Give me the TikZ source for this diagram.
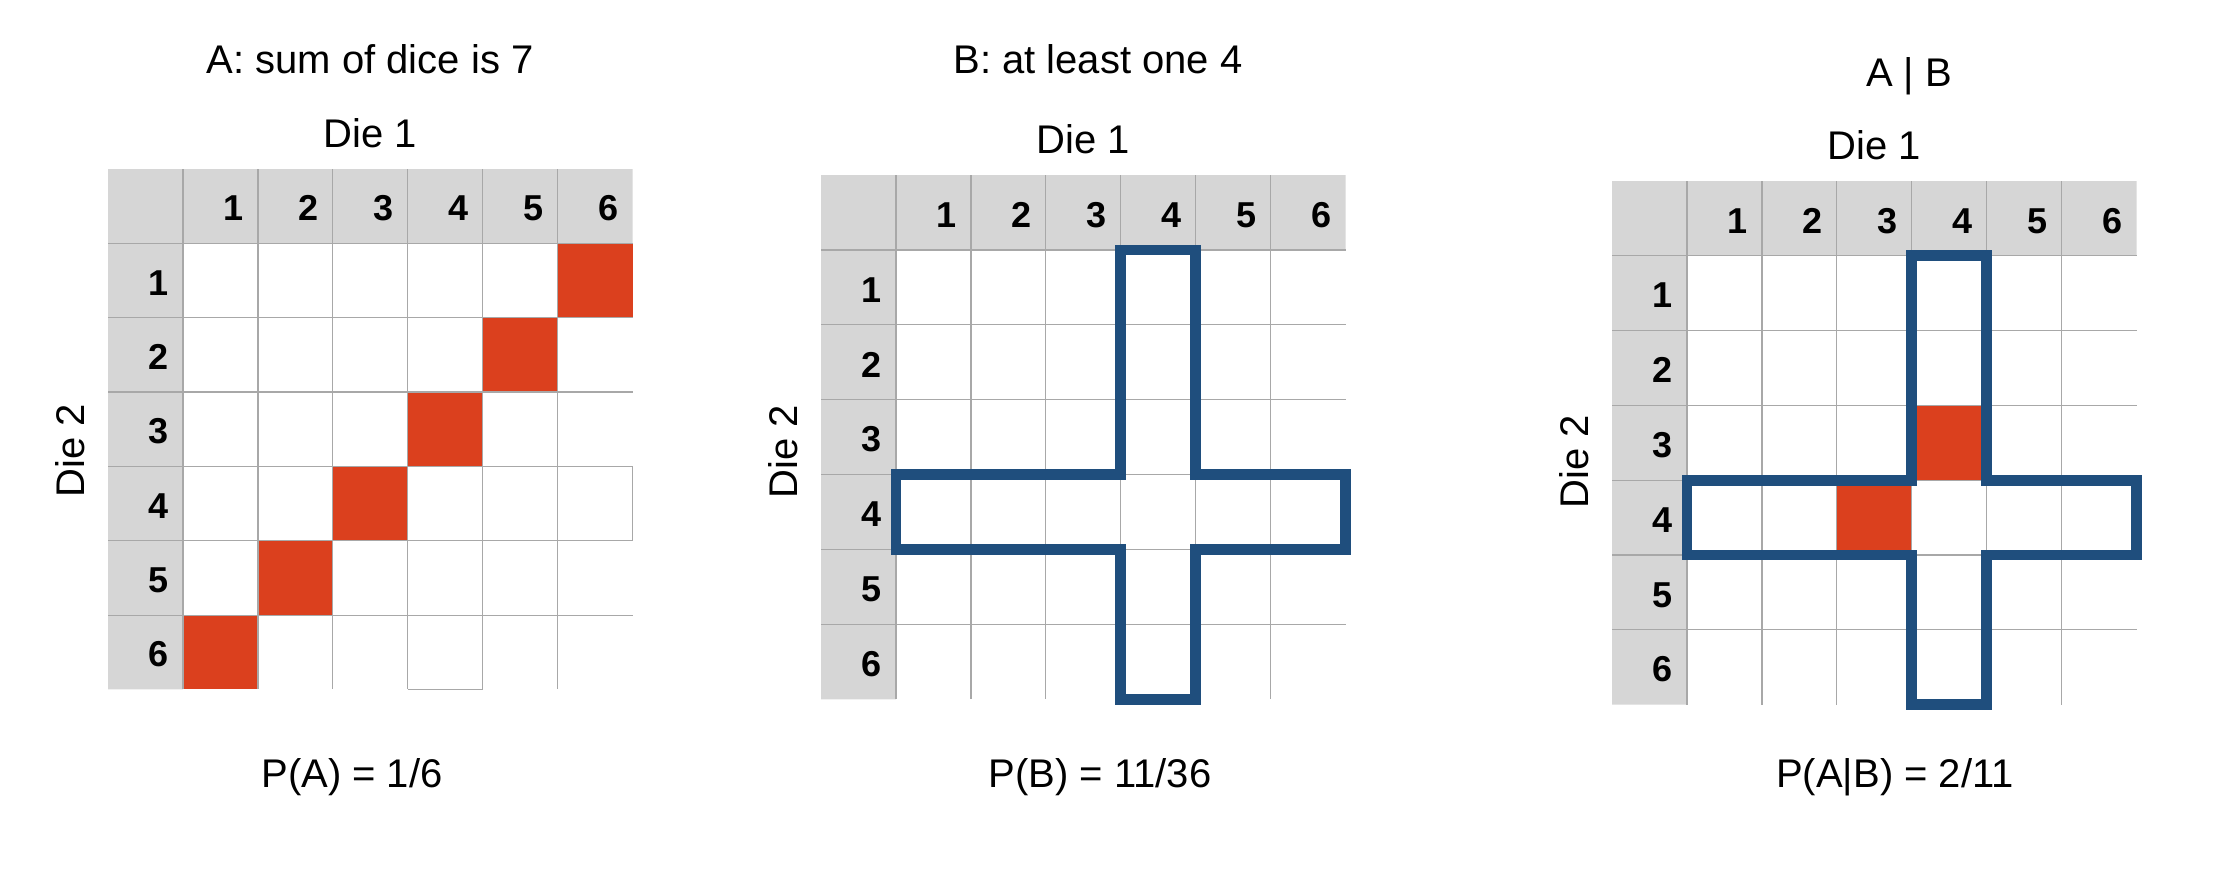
\documentclass[tikz,border=0pt]{standalone}
\usepackage{fontspec}
\setmainfont{Liberation Sans}
\definecolor{hdrgray}{RGB}{214,214,214}
\definecolor{gridgray}{RGB}{168,168,168}
\definecolor{hitred}{RGB}{219,64,30}
\definecolor{crossblue}{RGB}{31,78,125}
\tikzset{
  hdr/.style={fill=hdrgray},
  hit/.style={fill=hitred},
  gridline/.style={draw=gridgray,line width=1.2pt},
  cross/.style={draw=crossblue,line width=10.8pt,line join=miter},
  lbl/.style={font=\fontsize{40}{48}\selectfont,inner sep=0pt},
  num/.style={font=\fontsize{36}{42}\selectfont\bfseries,inner sep=0pt,anchor=base east}
}
% header cells, grey lines and the numbers 1..6
\newcommand{\dicetable}[1]{%
  \fill[hdr] (0,0) rectangle (7,1) (0,1) rectangle (1,7);
  \foreach \k in {1,...,6} {
    \draw[gridline] (\k,0) -- (\k,7);
    \draw[gridline] (0,\k) -- (7,\k);
    \node[num] (#1col\k) at (\k+0.813,0.697) {\k};
    \node[num] (#1row\k) at (0.813,\k+0.697) {\k};
  }%
}
\begin{document}
\begin{tikzpicture}[x=1pt,y=-1pt]
  \useasboundingbox (0,0) rectangle (2226,884);

  % A: sum is 7
  \begin{scope}[shift={(108,169)},x=74.95pt,y=-74.35pt]
    \foreach \c in {1,...,6}
      \fill[hit] (\c,7-\c) rectangle (\c+1,8-\c);
    \dicetable{a}
    \draw[gridline] (4,7) -- (5,7) (7,4) -- (7,5);
  \end{scope}
  \node[lbl,anchor=base] (titleA) at (370,73) {A: sum of dice is 7};
  \node[lbl,anchor=base] (dieoneA) at (370,147) {Die 1};
  \node[lbl,rotate=90] (dietwoA) at (70,451) {Die 2};
  \node[lbl,anchor=base] (probA) at (352,787) {P(A) = 1/6};

  % B: at least one 4
  \begin{scope}[shift={(821,175)},x=74.95pt,y=-74.9pt]
    \dicetable{b}
    \draw[cross] (4,1) -- (5,1) -- (5,4) -- (7,4) -- (7,5) -- (5,5) -- (5,7)
      -- (4,7) -- (4,5) -- (1,5) -- (1,4) -- (4,4) -- cycle;
  \end{scope}
  \node[lbl,anchor=base] (titleB) at (1098,73) {B: at least one 4};
  \node[lbl,anchor=base] (dieoneB) at (1083,153) {Die 1};
  \node[lbl,rotate=90] (dietwoB) at (783,452) {Die 2};
  \node[lbl,anchor=base] (probB) at (1100,787) {P(B) = 11/36};

  % A given B
  \begin{scope}[shift={(1612,181)},x=74.95pt,y=-74.8pt]
    \fill[hit] (4,3) rectangle (5,4) (3,4) rectangle (4,5);
    \dicetable{c}
    \draw[cross] (4,1) -- (5,1) -- (5,4) -- (7,4) -- (7,5) -- (5,5) -- (5,7)
      -- (4,7) -- (4,5) -- (1,5) -- (1,4) -- (4,4) -- cycle;
  \end{scope}
  \node[lbl,anchor=base] (titleC) at (1909,86) {A | B};
  \node[lbl,anchor=base] (dieoneC) at (1874,159) {Die 1};
  \node[lbl,rotate=90] (dietwoC) at (1574.5,462) {Die 2};
  \node[lbl,anchor=base] (probC) at (1895,787) {P(A|B) = 2/11};
\end{tikzpicture}
\end{document}
